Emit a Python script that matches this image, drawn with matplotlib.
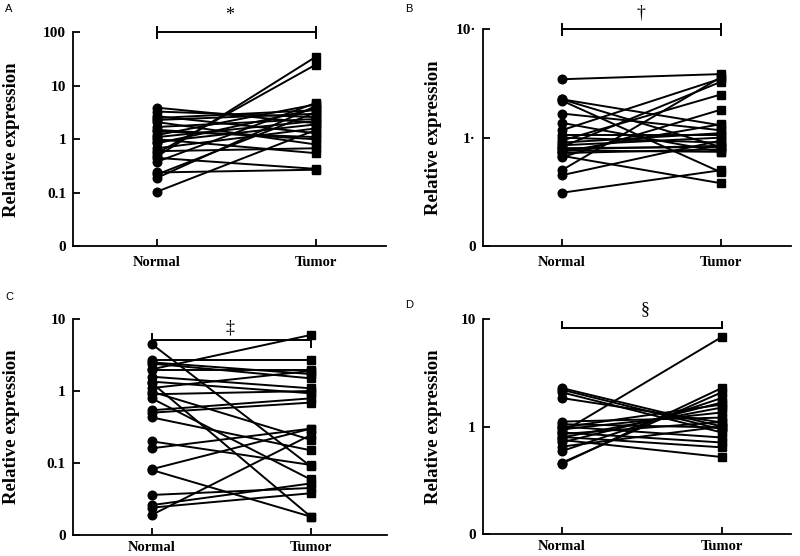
import matplotlib
matplotlib.use("Agg")
import matplotlib.pyplot as plt
import numpy as np

# ---------------- data ----------------
groups = ["Normal", "Tumor"]

a_normal = [3.9, 3.3, 2.7, 2.3, 2.1, 1.7, 1.4, 1.2, 1.0, 0.84, 0.68, 0.55, 0.48, 0.45,
            0.38, 0.24, 0.22, 0.19, 0.105, 1.1, 0.6, 1.5, 2.5, 0.9]
a_tumor = [2.0, 2.6, 1.3, 3.0, 0.8, 2.4, 1.1, 4.5, 0.55, 3.7, 1.6, 25, 35, 0.28,
           4.8, 0.27, 3.2, 4.2, 1.5, 2.2, 0.68, 1.0, 3.5, 1.9]

b_normal = [3.46, 2.26, 2.2, 1.67, 1.37, 1.17, 1.05, 0.94, 0.82, 0.74, 0.8, 0.78,
            0.66, 0.68, 0.5, 0.45, 0.31, 0.9, 0.76, 1.0, 0.85, 2.26, 0.72]
b_tumor = [3.86, 0.82, 0.48, 1.17, 0.74, 3.5, 1.05, 2.5, 3.27, 1.33, 0.82, 0.84,
           1.81, 0.38, 3.6, 0.94, 0.5, 1.1, 0.74, 0.9, 1.0, 1.3, 0.78]

c_normal = [4.5, 2.0, 2.7, 2.4, 2.5, 1.58, 1.35, 1.3, 0.98, 0.79, 0.54, 0.5, 0.43,
            0.2, 0.16, 0.082, 0.08, 0.036, 0.026, 0.024, 0.019, 1.96, 1.1, 0.9]
c_tumor = [0.09, 6.0, 2.7, 1.5, 1.72, 1.09, 0.93, 0.018, 0.21, 0.059, 0.79, 0.69, 0.15,
           0.094, 0.3, 0.30, 0.018, 0.045, 0.052, 0.038, 0.245, 1.96, 1.9, 1.0]

d_normal = [0.88, 2.28, 2.2, 2.08, 1.84, 1.11, 1.0, 0.94, 0.88, 0.79, 0.71, 0.59,
            0.46, 0.45, 0.8, 0.75, 1.05, 0.85, 0.65, 0.98]
d_tumor = [6.8, 1.0, 0.94, 0.88, 1.09, 1.21, 0.79, 1.35, 0.71, 1.5, 1.67, 1.84,
           2.08, 2.28, 0.64, 0.52, 0.98, 1.1, 1.0, 1.6]

a_ticks = [0.01, 0.1, 1, 10, 100]
a_ticklabels = ["0", "0.1", "1", "10", "100"]
b_ticks = [0.1, 1, 10]
b_ticklabels = ["0", "1·", "10·"]
c_ticks = [0.01, 0.1, 1, 10]
c_ticklabels = ["0", "0.1", "1", "10"]
d_ticks = [0.1, 1, 10]
d_ticklabels = ["0", "1", "10"]

panel_letters = ["A", "B", "C", "D"]
sig_marks = ["*", "†", "‡", "§"]
sig_levels = [100, 10, 5.1, 8.2]

# ---------------- layout (pixels) ----------------
W, H = 800, 556
fig = plt.figure(figsize=(W / 100, H / 100), dpi=100)

serif = "Liberation Serif"

panels = [
    dict(l=73, r=386, t=32.3, b=246.3, xn=157, xt=316, n=a_normal, tu=a_tumor,
         ticks=a_ticks, labels=a_ticklabels, ylx=12, letter=(5, 9), sig=(230, 15),
         tick_up=5, tick_dn=6, xpad=7),
    dict(l=482.7, r=790.7, t=29.3, b=246, xn=561.7, xt=720.7, n=b_normal, tu=b_tumor,
         ticks=b_ticks, labels=b_ticklabels, ylx=433, letter=(405, 9), sig=(641, 13),
         tick_up=5, tick_dn=6, xpad=7),
    dict(l=72.7, r=386.7, t=319, b=535, xn=151.7, xt=310.7, n=c_normal, tu=c_tumor,
         ticks=c_ticks, labels=c_ticklabels, ylx=12, letter=(5, 297), sig=(230, 328),
         tick_up=6, tick_dn=7, xpad=4),
    dict(l=482.7, r=790.7, t=319, b=534, xn=561.7, xt=721.7, n=d_normal, tu=d_tumor,
         ticks=d_ticks, labels=d_ticklabels, ylx=433, letter=(405, 305), sig=(645, 310),
         tick_up=6, tick_dn=0, xpad=4),
]

for i, p in enumerate(panels):
    ax = fig.add_axes([p["l"] / W, 1 - p["b"] / H, (p["r"] - p["l"]) / W, (p["b"] - p["t"]) / H])
    ax.set_yscale("log")
    ymin, ymax = p["ticks"][0], p["ticks"][-1]
    ax.set_ylim(ymin, ymax)
    span = p["xt"] - p["xn"]
    ax.set_xlim(-(p["xn"] - p["l"]) / span, 1 + (p["r"] - p["xt"]) / span)
    decade_px = (p["b"] - p["t"]) / np.log10(ymax / ymin)

    for nv, tv in zip(p["n"], p["tu"]):
        ax.plot([0, 1], [nv, tv], color="black", lw=1.4, zorder=2, solid_capstyle="butt")
    ax.plot(np.zeros(len(p["n"])), p["n"], "o", color="black", ms=6.2, zorder=3, clip_on=False)
    ax.plot(np.ones(len(p["tu"])), p["tu"], "s", color="black", ms=6.2, zorder=3, clip_on=False)

    # significance bar
    lvl = sig_levels[i]
    up = 10 ** (p["tick_up"] / decade_px)
    dn = 10 ** (p["tick_dn"] / decade_px)
    ax.plot([0, 1], [lvl, lvl], color="black", lw=1.4, clip_on=False, zorder=4)
    for xx in (0, 1):
        ax.plot([xx, xx], [lvl / dn, lvl * up], color="black", lw=1.4, clip_on=False, zorder=4)

    ax.spines["top"].set_visible(False)
    ax.spines["right"].set_visible(False)
    for s in ("left", "bottom"):
        ax.spines[s].set_linewidth(1.3)
    ax.set_yticks(p["ticks"])
    ax.set_yticklabels(p["labels"], fontfamily=serif, fontweight="bold", fontsize=11)
    ax.yaxis.set_minor_locator(matplotlib.ticker.NullLocator())
    ax.set_xticks([0, 1])
    ax.set_xticklabels(groups, fontfamily=serif, fontweight="bold", fontsize=10.5)
    ax.tick_params(axis="y", direction="in", length=5, width=1.3, pad=5)
    ax.tick_params(axis="x", direction="in", length=5, width=1.3, pad=p["xpad"])

    fig.text(p["ylx"] / W, 1 - ((p["t"] + p["b"]) / 2) / H, "Relative expression",
             rotation=90, ha="center", va="center", fontfamily=serif,
             fontweight="bold", fontsize=13.5)
    fig.text(p["letter"][0] / W, 1 - p["letter"][1] / H, panel_letters[i],
             ha="left", va="center", fontfamily="Liberation Sans", fontsize=8)
    fig.text(p["sig"][0] / W, 1 - p["sig"][1] / H, sig_marks[i], ha="center", va="center",
             fontfamily=["Liberation Serif", "DejaVu Serif"], fontsize=13)

fig.savefig("out.png", dpi=100, facecolor="white")
